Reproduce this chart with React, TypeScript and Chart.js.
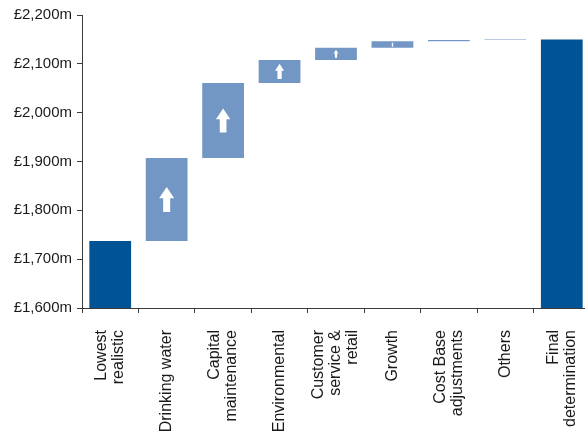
import React, { useEffect, useRef } from "react";
import { Chart, registerables } from "chart.js";

Chart.register(...registerables);

// Waterfall: starting total, seven increments, final total (all £m)
const categories: (string | string[])[] = [
  ["Lowest", "realistic"],
  "Drinking water",
  ["Capital", "maintenance"],
  "Environmental",
  ["Customer", "service &", "retail"],
  "Growth",
  ["Cost Base", "adjustments"],
  "Others",
  ["Final", "determination"],
];

const startTotal = 1737;
const increments = [170, 154, 47, 25, 13, 3, 1];
const finalTotal = 2150;

const yMin = 1600;
const yMax = 2200;
const yStep = 100;

const TOTAL_COLOR = "#005496";
const STEP_COLOR = "#7397c5";
const AXIS_COLOR = "#3a3a3a";
const TEXT_COLOR = "#1a1a1a";
const FONT = "'Liberation Sans', Arial, sans-serif";

// build floating [from, to] ranges for the increment bars
const stepRanges: ([number, number] | null)[] = [null];
{
  let running = startTotal;
  for (const inc of increments) {
    stepRanges.push([running, running + inc]);
    running += inc;
  }
  stepRanges.push(null);
}
const totals: (number | null)[] = categories.map((_, i) =>
  i === 0 ? startTotal : i === categories.length - 1 ? finalTotal : null
);

// white up-arrows centred inside each increment bar
const arrowPlugin = {
  id: "upArrows",
  afterDatasetsDraw(chart: any) {
    const meta = chart.getDatasetMeta(1);
    const ctx: CanvasRenderingContext2D = chart.ctx;
    ctx.save();
    ctx.fillStyle = "#ffffff";
    meta.data.forEach((bar: any, i: number) => {
      if (!stepRanges[i]) return;
      const { x, y, base } = bar.getProps(["x", "y", "base"], true);
      const h = Math.abs(base - y);
      const aH = Math.min(h * 0.66, 13 + h * 0.145);
      if (aH < 3) return;
      const cy = (y + base) / 2;
      const headW = aH * 0.6;
      const stemW = aH * 0.28;
      const headH = aH * 0.45;
      const top = cy - aH / 2;
      const bottom = cy + aH / 2;
      ctx.beginPath();
      ctx.moveTo(x, top);
      ctx.lineTo(x + headW / 2, top + headH);
      ctx.lineTo(x + stemW / 2, top + headH);
      ctx.lineTo(x + stemW / 2, bottom);
      ctx.lineTo(x - stemW / 2, bottom);
      ctx.lineTo(x - stemW / 2, top + headH);
      ctx.lineTo(x - headW / 2, top + headH);
      ctx.closePath();
      ctx.fill();
    });
    ctx.restore();
  },
};

// vertical category labels, each block of lines centred on its category
const xLabelPlugin = {
  id: "verticalLabels",
  afterDraw(chart: any) {
    const xScale = chart.scales.x;
    const ctx: CanvasRenderingContext2D = chart.ctx;
    const lineGap = 17;
    const labelTop = xScale.top + 22;
    ctx.save();
    ctx.fillStyle = TEXT_COLOR;
    ctx.font = `16px ${FONT}`;
    ctx.textAlign = "right";
    ctx.textBaseline = "middle";
    categories.forEach((cat, i) => {
      const lines = Array.isArray(cat) ? cat : [cat];
      const cx = xScale.getPixelForValue(i);
      lines.forEach((line, j) => {
        const lx = cx + (j - (lines.length - 1) / 2) * lineGap;
        ctx.save();
        ctx.translate(lx, labelTop);
        ctx.rotate(-Math.PI / 2);
        ctx.fillText(line, 0, 0);
        ctx.restore();
      });
    });
    ctx.restore();
  },
};

export default function App() {
  const canvasRef = useRef<HTMLCanvasElement | null>(null);

  useEffect(() => {
    if (!canvasRef.current) return;
    const chart = new Chart(canvasRef.current, {
      type: "bar",
      data: {
        labels: categories as any,
        datasets: [
          {
            data: totals as any,
            backgroundColor: TOTAL_COLOR,
            grouped: false,
            barPercentage: 0.74,
            categoryPercentage: 1,
          },
          {
            data: stepRanges as any,
            backgroundColor: STEP_COLOR,
            grouped: false,
            barPercentage: 0.74,
            categoryPercentage: 1,
          },
        ],
      },
      options: {
        animation: false,
        responsive: false,
        devicePixelRatio: 1,
        layout: { padding: { top: 15, right: 10, bottom: 0, left: 0 } },
        plugins: {
          legend: { display: false },
          tooltip: { enabled: false },
        },
        scales: {
          x: {
            grid: {
              offset: true,
              drawOnChartArea: false,
              drawTicks: true,
              tickLength: 5,
              color: AXIS_COLOR,
            },
            border: { display: true, color: AXIS_COLOR, width: 1 },
            ticks: { display: false, autoSkip: false },
            afterFit(scale: any) {
              scale.height = 126;
            },
          },
          y: {
            min: yMin,
            max: yMax,
            grid: {
              drawOnChartArea: false,
              drawTicks: true,
              tickLength: 5,
              color: AXIS_COLOR,
            },
            border: { display: true, color: AXIS_COLOR, width: 1 },
            ticks: {
              stepSize: yStep,
              padding: 5,
              color: TEXT_COLOR,
              font: { family: FONT, size: 15 },
              callback: (v: any) => "£" + Number(v).toLocaleString("en-GB") + "m",
            },
            afterFit(scale: any) {
              scale.width = 82;
            },
          },
        },
      },
      plugins: [arrowPlugin, xLabelPlugin],
    });
    return () => chart.destroy();
  }, []);

  return (
    <div
      style={{
        position: "fixed",
        left: 0,
        top: 0,
        width: 585,
        height: 434,
        overflow: "hidden",
        background: "#ffffff",
      }}
    >
      <canvas ref={canvasRef} width={600} height={434} style={{ display: "block" }} />
    </div>
  );
}
